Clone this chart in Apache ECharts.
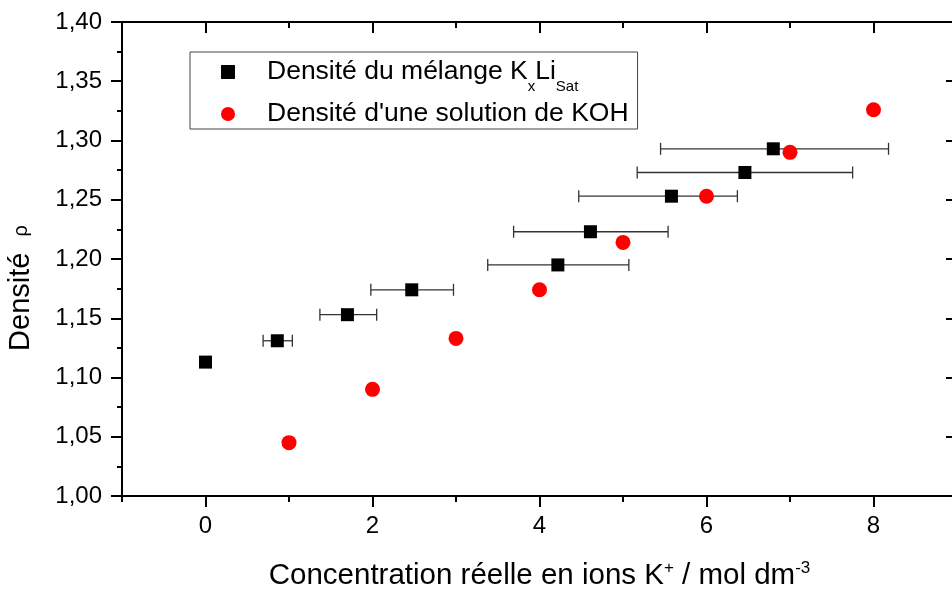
<!DOCTYPE html>
<html>
<head>
<meta charset="utf-8">
<script src="https://cdn.jsdelivr.net/npm/echarts@6/dist/echarts.min.js"></script>
<style>html,body{margin:0;padding:0;background:#fff}#c{width:952px;height:592px}</style>
</head>
<body>
<div id="c"></div>
<script>
// ---- data ----
const mixX     = [0,     0.86,  1.70,  2.47,  4.22,  4.61,  5.58,  6.46,  6.80];
const mixY     = [1.113, 1.131, 1.153, 1.174, 1.195, 1.223, 1.253, 1.273, 1.293];
const mixXLow  = [null,  0.69,  1.37,  1.98,  3.38,  3.69,  4.47,  5.17,  5.45];
const mixXHigh = [null,  1.04,  2.05,  2.97,  5.07,  5.54,  6.37,  7.75,  8.18];
const kohX     = [1, 2, 3, 4, 5, 6, 7, 8];
const kohY     = [1.045, 1.090, 1.133, 1.174, 1.214, 1.253, 1.290, 1.326];
const xMajorTicks = [0, 2, 4, 6, 8];
const xMinorTicks = [-1, 1, 3, 5, 7, 9];
const seriesNames = ['Densité du mélange KxLiSat', "Densité d'une solution de KOH"];
const xTitle = 'Concentration réelle en ions K{sup|+} / mol dm{sup|-3}';
const yTitle = 'Densité {r|ρ}';

const FONT = '"Liberation Sans", Arial, sans-serif';
const AX = {color: '#000', width: 2};

const mixPoints = mixX.map((x, i) => [x, mixY[i]]);
const kohPoints = kohX.map((x, i) => [x, kohY[i]]);
const errData = [];
mixX.forEach((x, i) => { if (mixXLow[i] != null) errData.push([x, mixY[i], mixXLow[i], mixXHigh[i]]); });

function xAxis(pos, ticks, len, inside, labels, line) {
  return {
    type: 'value', min: -1, max: 9, position: pos, gridIndex: 0,
    splitLine: {show: false},
    axisLine: {show: line, onZero: false, lineStyle: AX},
    axisTick: {show: true, inside: inside, length: len, lineStyle: AX, customValues: ticks},
    axisLabel: labels ? {show: true, customValues: ticks, margin: 18, color: '#000', fontSize: 24, fontFamily: FONT}
                      : {show: false},
    axisPointer: {show: false}
  };
}
function yAxis(pos, inside, labels) {
  return {
    type: 'value', min: 1.0, max: 1.4, interval: 0.05, position: pos, gridIndex: 0,
    splitLine: {show: false},
    axisLine: {show: true, onZero: false, lineStyle: AX},
    axisTick: {show: true, inside: inside, length: 11, lineStyle: AX},
    minorTick: {show: true, splitNumber: 2, length: 5, lineStyle: AX},
    minorSplitLine: {show: false},
    axisLabel: labels ? {show: true, margin: 20, color: '#000', fontSize: 24, fontFamily: FONT,
                          formatter: v => v.toFixed(2).replace('.', ',')}
                      : {show: false}
  };
}

const chart = echarts.init(document.getElementById('c'), null, {renderer: 'canvas'});
const xa0 = xAxis('bottom', xMajorTicks, 11, false, true, true);
xa0.name = xTitle;
xa0.nameLocation = 'middle';
xa0.nameGap = 64;
xa0.nameTextStyle = {
  color: '#000', fontSize: 29.5, fontFamily: FONT, lineHeight: 32,
  rich: {sup: {color: '#000', fontSize: 17, fontFamily: FONT, lineHeight: 10, verticalAlign: 'top'}}
};

chart.setOption({
  animation: false,
  backgroundColor: '#fff',
  grid: {left: 122, top: 22, width: 835, height: 474, containLabel: false, outerBoundsMode: 'none'},
  xAxis: [
    xa0,
    xAxis('bottom', xMinorTicks, 6, false, false, false),
    xAxis('top', xMajorTicks, 11, true, false, true),
    xAxis('top', xMinorTicks, 6, true, false, false)
  ],
  yAxis: [
    yAxis('left', false, true),
    yAxis('right', true, false)
  ],
  legend: {
    orient: 'vertical', left: 190, top: 52,
    padding: [5, 9, 0, 31], itemGap: 5, itemWidth: 14, itemHeight: 14,
    borderColor: '#444', borderWidth: 1, backgroundColor: '#fff',
    selectedMode: false,
    data: [{name: seriesNames[0], icon: 'rect'}, {name: seriesNames[1], icon: 'circle'}],
    textStyle: {
      color: '#000', fontSize: 26.5, fontFamily: FONT, lineHeight: 30,
      rich: {
        gap: {width: 27, fontSize: 26.5, lineHeight: 30},
        t: {color: '#000', fontSize: 26.5, fontFamily: FONT, lineHeight: 30},
        sub: {color: '#000', fontSize: 15, fontFamily: FONT, lineHeight: 4, verticalAlign: 'top', padding: [22, 0, 0, 0]}
      }
    },
    formatter: function (name) {
      if (name === seriesNames[0]) return '{gap|}{t|Densité du mélange K}{sub|x}{t|Li}{sub|Sat}';
      return '{gap|}{t|' + name + '}';
    }
  },
  graphic: [{
    type: 'text', x: 21, y: 288, rotation: Math.PI / 2,
    style: {
      text: yTitle, align: 'center', verticalAlign: 'middle',
      fill: '#000', fontSize: 29, fontFamily: FONT,
      rich: {r: {fill: '#000', fontSize: 20, fontFamily: FONT, padding: [0, 0, 0, 8]}}
    }
  }],
  series: [
    {
      type: 'custom', name: 'errors', xAxisIndex: 0, yAxisIndex: 0, z: 1,
      data: errData, encode: {x: 0, y: 1},
      renderItem: function (params, api) {
        const y = api.value(1), lo = api.value(2), hi = api.value(3);
        const p1 = api.coord([lo, y]), p2 = api.coord([hi, y]);
        const c = 6, st = {stroke: '#333', lineWidth: 1.3};
        return {type: 'group', children: [
          {type: 'line', shape: {x1: p1[0], y1: p1[1], x2: p2[0], y2: p2[1]}, style: st},
          {type: 'line', shape: {x1: p1[0], y1: p1[1] - c, x2: p1[0], y2: p1[1] + c}, style: st},
          {type: 'line', shape: {x1: p2[0], y1: p2[1] - c, x2: p2[0], y2: p2[1] + c}, style: st}
        ]};
      }
    },
    {
      type: 'scatter', name: seriesNames[0], xAxisIndex: 0, yAxisIndex: 0, z: 3,
      data: mixPoints, symbol: 'rect', symbolSize: 13,
      itemStyle: {color: '#000', opacity: 1}
    },
    {
      type: 'scatter', name: seriesNames[1], xAxisIndex: 0, yAxisIndex: 0, z: 4,
      data: kohPoints, symbol: 'circle', symbolSize: 15,
      itemStyle: {color: '#ff0000', opacity: 1}
    }
  ]
});
</script>
</body>
</html>
